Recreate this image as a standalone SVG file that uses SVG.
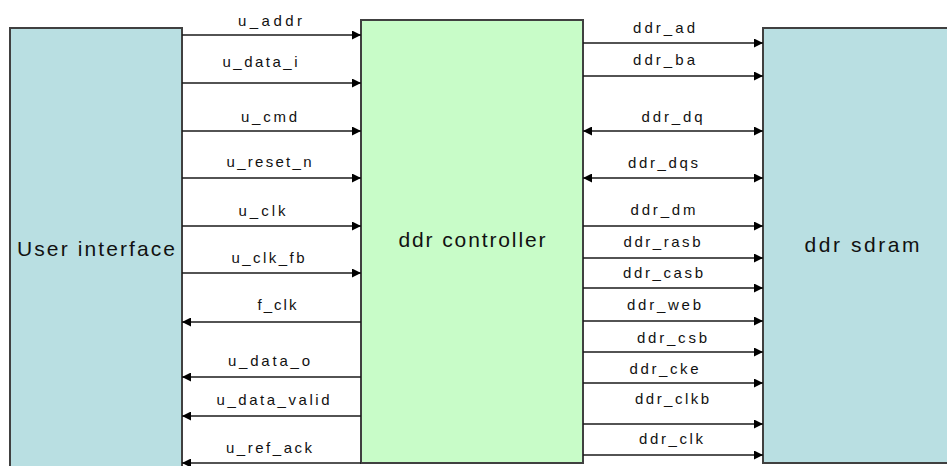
<svg xmlns="http://www.w3.org/2000/svg" width="947" height="466" viewBox="0 0 947 466">
<defs>
<marker id="ah" viewBox="0 0 10 10" refX="10" refY="5" markerWidth="11" markerHeight="9" markerUnits="userSpaceOnUse" orient="auto-start-reverse">
<path d="M0,0 L10,5 L0,10 z" fill="#000"/>
</marker>
<style>
.box{stroke:#404040;stroke-width:2}
.ui{fill:#b9dfe2}
.ctl{fill:#c8fcc8}
.c line{stroke:#1a1a1a;stroke-width:1.7}
.lbl{font-family:"Liberation Sans",Arial,sans-serif;font-size:15px;fill:#111;text-anchor:middle}
.big{font-family:"Liberation Sans",Arial,sans-serif;font-size:21px;fill:#111;text-anchor:middle}
</style>
</defs>
<rect width="947" height="466" fill="#fff"/>
<g id="user_interface">
<rect class="box ui" x="10" y="28" width="172" height="445"/>
<text class="big" x="96" y="256" textLength="158" lengthAdjust="spacing">User interface</text>
</g>
<g id="ddr_controller">
<rect class="box ctl" x="361" y="20" width="222" height="443"/>
<text class="big" x="472" y="247" textLength="147" lengthAdjust="spacing">ddr controller</text>
</g>
<g id="ddr_sdram">
<rect class="box ui" x="763" y="28" width="195" height="435"/>
<text class="big" x="862" y="252" textLength="115" lengthAdjust="spacing">ddr sdram</text>
</g>
<g id="connectors" class="c">
<line x1="182" y1="35" x2="361" y2="35" marker-end="url(#ah)"/>
<line x1="182" y1="83" x2="361" y2="83" marker-end="url(#ah)"/>
<line x1="182" y1="131" x2="361" y2="131" marker-end="url(#ah)"/>
<line x1="182" y1="178" x2="361" y2="178" marker-end="url(#ah)"/>
<line x1="182" y1="226" x2="361" y2="226" marker-end="url(#ah)"/>
<line x1="182" y1="273" x2="361" y2="273" marker-end="url(#ah)"/>
<line x1="182" y1="322" x2="361" y2="322" marker-start="url(#ah)"/>
<line x1="182" y1="377" x2="361" y2="377" marker-start="url(#ah)"/>
<line x1="182" y1="416" x2="361" y2="416" marker-start="url(#ah)"/>
<line x1="182" y1="463" x2="361" y2="463" marker-start="url(#ah)"/>
<line x1="583" y1="43" x2="763" y2="43" marker-end="url(#ah)"/>
<line x1="583" y1="76" x2="763" y2="76" marker-end="url(#ah)"/>
<line x1="583" y1="131" x2="763" y2="131" marker-start="url(#ah)" marker-end="url(#ah)"/>
<line x1="583" y1="178" x2="763" y2="178" marker-start="url(#ah)" marker-end="url(#ah)"/>
<line x1="583" y1="226" x2="763" y2="226" marker-end="url(#ah)"/>
<line x1="583" y1="258" x2="763" y2="258" marker-end="url(#ah)"/>
<line x1="583" y1="288" x2="763" y2="288" marker-end="url(#ah)"/>
<line x1="583" y1="321" x2="763" y2="321" marker-end="url(#ah)"/>
<line x1="583" y1="352" x2="763" y2="352" marker-end="url(#ah)"/>
<line x1="583" y1="383" x2="763" y2="383" marker-end="url(#ah)"/>
<line x1="583" y1="424" x2="763" y2="424" marker-end="url(#ah)"/>
<line x1="583" y1="455" x2="763" y2="455" marker-end="url(#ah)"/>
</g>
<g id="labels">
<text class="lbl" x="270" y="26" textLength="64" lengthAdjust="spacing">u_addr</text>
<text class="lbl" x="260" y="67" textLength="75" lengthAdjust="spacing">u_data_i</text>
<text class="lbl" x="269" y="122" textLength="56" lengthAdjust="spacing">u_cmd</text>
<text class="lbl" x="269" y="167" textLength="85" lengthAdjust="spacing">u_reset_n</text>
<text class="lbl" x="262" y="216" textLength="47" lengthAdjust="spacing">u_clk</text>
<text class="lbl" x="268" y="263" textLength="73" lengthAdjust="spacing">u_clk_fb</text>
<text class="lbl" x="277" y="310" textLength="39" lengthAdjust="spacing">f_clk</text>
<text class="lbl" x="269" y="366" textLength="82" lengthAdjust="spacing">u_data_o</text>
<text class="lbl" x="273" y="405" textLength="113" lengthAdjust="spacing">u_data_valid</text>
<text class="lbl" x="269" y="453" textLength="86" lengthAdjust="spacing">u_ref_ack</text>
<text class="lbl" x="664" y="33" textLength="62" lengthAdjust="spacing">ddr_ad</text>
<text class="lbl" x="664" y="65" textLength="62" lengthAdjust="spacing">ddr_ba</text>
<text class="lbl" x="672" y="122" textLength="61" lengthAdjust="spacing">ddr_dq</text>
<text class="lbl" x="663" y="168" textLength="70" lengthAdjust="spacing">ddr_dqs</text>
<text class="lbl" x="663" y="215" textLength="65" lengthAdjust="spacing">ddr_dm</text>
<text class="lbl" x="662" y="247" textLength="77" lengthAdjust="spacing">ddr_rasb</text>
<text class="lbl" x="663" y="278" textLength="80" lengthAdjust="spacing">ddr_casb</text>
<text class="lbl" x="664" y="310" textLength="74" lengthAdjust="spacing">ddr_web</text>
<text class="lbl" x="672" y="343" textLength="70" lengthAdjust="spacing">ddr_csb</text>
<text class="lbl" x="664" y="374" textLength="69" lengthAdjust="spacing">ddr_cke</text>
<text class="lbl" x="672" y="404" textLength="74" lengthAdjust="spacing">ddr_clkb</text>
<text class="lbl" x="671" y="444" textLength="64" lengthAdjust="spacing">ddr_clk</text>
</g>
</svg>
